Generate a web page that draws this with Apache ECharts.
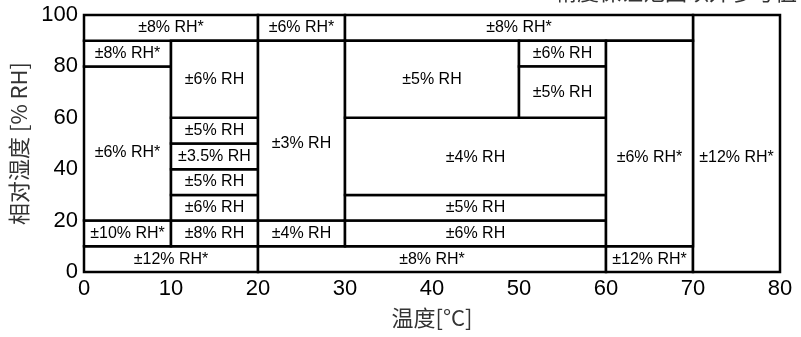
<!DOCTYPE html>
<html>
<head>
<meta charset="utf-8">
<script src="https://cdn.jsdelivr.net/npm/echarts@6/dist/echarts.min.js"></script>
<style>
  html, body { margin: 0; padding: 0; background: #fff; }
  #main { width: 801px; height: 337px; }
</style>
</head>
<body>
<div id="main"></div>
<script>
    // 精度区域 (温度 x0-x1, 湿度 y0-y1)
    var boxX0 = [0, 20, 60, 70, 0, 0, 0, 0, 20, 30, 10, 10, 10, 10, 10, 10, 20, 20, 30, 30, 30, 30, 50, 50, 60];
    var boxX1 = [20, 60, 70, 80, 10, 10, 10, 20, 30, 70, 20, 20, 20, 20, 20, 20, 30, 30, 60, 60, 60, 50, 60, 60, 70];
    var boxY0 = [0, 0, 0, 0, 10, 20, 80, 90, 90, 90, 10, 20, 30, 40, 50, 60, 10, 20, 10, 20, 30, 60, 80, 60, 10];
    var boxY1 = [10, 10, 10, 100, 20, 80, 90, 100, 100, 100, 20, 30, 40, 50, 60, 90, 20, 90, 20, 30, 60, 90, 90, 80, 90];
    var boxLabel = ['±12% RH*', '±8% RH*', '±12% RH*', '±12% RH*', '±10% RH*', '±6% RH*', '±8% RH*',
        '±8% RH*', '±6% RH*', '±8% RH*', '±8% RH', '±6% RH', '±5% RH', '±3.5% RH', '±5% RH', '±6% RH',
        '±4% RH', '±3% RH', '±6% RH', '±5% RH', '±4% RH', '±5% RH', '±6% RH', '±5% RH', '±6% RH*'];
    // 文字所在湿度 (null = 居中)
    var boxLabelY = [null, null, null, 44.5, null, 46.5, null, null, null, null, null, null, null, null, null, null,
        null, 50, null, null, 44.5, null, null, null, 44.5];

    var xTicks = [0, 10, 20, 30, 40, 50, 60, 70, 80];
    var yTicks = [0, 20, 40, 60, 80, 100];

    var font = '"Liberation Sans", Arial, sans-serif';
    var cjk = '"Noto Sans CJK SC", sans-serif';

    var data = boxLabel.map(function (name, i) {
        return [boxX0[i], boxX1[i], boxY0[i], boxY1[i], boxLabelY[i] == null ? (boxY0[i] + boxY1[i]) / 2 : boxLabelY[i]];
    });

    var myChart = echarts.init(document.getElementById('main'));
    myChart.setOption({
        animation: false,
        grid: { left: 82, right: 21, top: 15, bottom: 65 },
        graphic: [{
            type: 'text',
            right: 4,
            top: -19,
            style: { text: '* 精度保证范围以外参考值', font: '22px ' + cjk, fill: '#333' }
        }],
        xAxis: {
            type: 'value',
            min: xTicks[0],
            max: xTicks[xTicks.length - 1],
            interval: 10,
            name: '温度[°C]',
            nameLocation: 'middle',
            nameGap: 35,
            nameTextStyle: { fontSize: 22, color: '#333', fontFamily: cjk },
            axisLine: { show: false },
            axisTick: { show: false },
            splitLine: { show: false },
            axisLabel: { fontSize: 22, color: '#000', margin: 6, fontFamily: font }
        },
        yAxis: {
            type: 'value',
            min: yTicks[0],
            max: yTicks[yTicks.length - 1],
            interval: 20,
            name: '相对湿度 [% RH]',
            nameLocation: 'middle',
            nameGap: 54,
            nameTextStyle: { fontSize: 22, color: '#333', fontFamily: cjk },
            axisLine: { show: false },
            axisTick: { show: false },
            splitLine: { show: false },
            axisLabel: { fontSize: 22, color: '#000', margin: 6, fontFamily: font }
        },
        series: [{
            type: 'custom',
            clip: false,
            data: data,
            renderItem: function (params, api) {
                var p0 = api.coord([api.value(0), api.value(3)]);
                var p1 = api.coord([api.value(1), api.value(2)]);
                var pl = api.coord([(api.value(0) + api.value(1)) / 2, api.value(4)]);
                return {
                    type: 'group',
                    children: [{
                        type: 'rect',
                        shape: { x: p0[0], y: p0[1], width: p1[0] - p0[0], height: p1[1] - p0[1] },
                        style: { fill: '#fff', stroke: '#000', lineWidth: 2.5 }
                    }, {
                        type: 'text',
                        x: pl[0],
                        y: pl[1],
                        style: {
                            text: boxLabel[params.dataIndex],
                            font: '16px ' + font,
                            fill: '#000',
                            align: 'center',
                            verticalAlign: 'middle'
                        }
                    }]
                };
            }
        }]
    });
</script>
</body>
</html>
